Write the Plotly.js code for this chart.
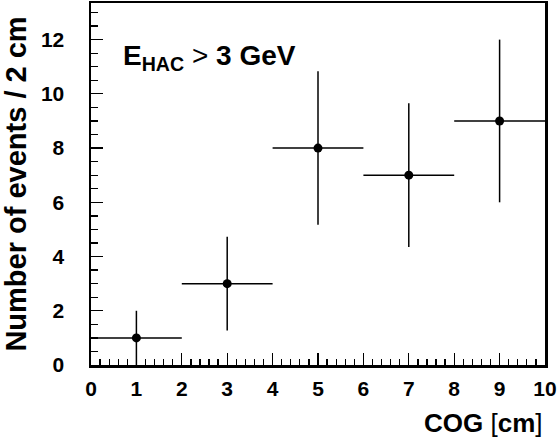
<!DOCTYPE html>
<html>
<head>
<meta charset="utf-8">
<script src="https://cdn.plot.ly/plotly-3.0.1.min.js"></script>
<style>html,body{margin:0;padding:0;background:#fff;}#chart{width:557px;height:445px;}</style>
</head>
<body>
<div id="chart"></div>
<script>
// Data
var binCenters = [1, 3, 5, 7, 9];
var eventCounts = [1, 3, 8, 7, 9];
var binHalfWidths = [1, 1, 1, 1, 1];
var countErrors = [1, 1.73, 2.83, 2.65, 3];
var xTickVals = [0, 1, 2, 3, 4, 5, 6, 7, 8, 9, 10];
var yTickVals = [0, 2, 4, 6, 8, 10, 12];

var FONT = '"Liberation Sans", Arial, Helvetica, sans-serif';

var trace = {
  x: binCenters,
  y: eventCounts,
  type: 'scatter',
  mode: 'markers',
  marker: {color: '#000', size: 9},
  error_x: {type: 'data', array: binHalfWidths, visible: true, color: '#000', thickness: 1.5, width: 0},
  error_y: {type: 'data', array: countErrors, visible: true, color: '#000', thickness: 1.5, width: 0},
  cliponaxis: false,
  hoverinfo: 'x+y'
};

var layout = {
  width: 557, height: 445,
  margin: {l: 91, r: 12, t: 3, b: 80, pad: 0},
  paper_bgcolor: '#fff', plot_bgcolor: '#fff',
  showlegend: false,
  font: {family: FONT, color: '#000'},
  xaxis: {
    range: [0, 10],
    tickvals: xTickVals,
    ticks: 'inside', ticklen: 12, tickwidth: 1.3, tickcolor: '#000',
    minor: {dtick: 0.2, ticks: 'inside', ticklen: 6, tickwidth: 1.3, tickcolor: '#000'},
    showline: true, linecolor: '#000', linewidth: 2.5, mirror: true,
    showgrid: false, zeroline: false,
    tickfont: {family: FONT, size: 21, weight: 'bold', color: '#000'},
    ticklabelstandoff: 3
  },
  yaxis: {
    range: [0, 13.35],
    tickvals: yTickVals,
    ticks: 'inside', ticklen: 12, tickwidth: 1.3, tickcolor: '#000',
    minor: {dtick: 0.5, ticks: 'inside', ticklen: 7, tickwidth: 1.3, tickcolor: '#000'},
    showline: true, linecolor: '#000', linewidth: 2.5, mirror: true,
    showgrid: false, zeroline: false,
    tickfont: {family: FONT, size: 21, weight: 'bold', color: '#000'},
    ticklabelstandoff: 20,
    title: {text: '<b>Number of events / 2 cm</b>', font: {family: FONT, size: 29, color: '#000'}, standoff: 7}
  },
  annotations: [
    {
      xref: 'paper', yref: 'paper', x: 1.0, y: -0.16,
      xanchor: 'right', yanchor: 'middle', showarrow: false,
      text: '<b>COG</b> [<b>cm</b>]',
      font: {family: FONT, size: 26, color: '#000'}
    },
    {
      xref: 'x', yref: 'y', x: 0.65, y: 11.35,
      xanchor: 'left', yanchor: 'middle', showarrow: false,
      text: '<b>E<sub>HAC</sub></b> &gt; <b>3 GeV</b>',
      font: {family: FONT, size: 28, color: '#000'}
    }
  ]
};

Plotly.newPlot('chart', [trace], layout, {staticPlot: true, displayModeBar: false});
</script>
</body>
</html>
